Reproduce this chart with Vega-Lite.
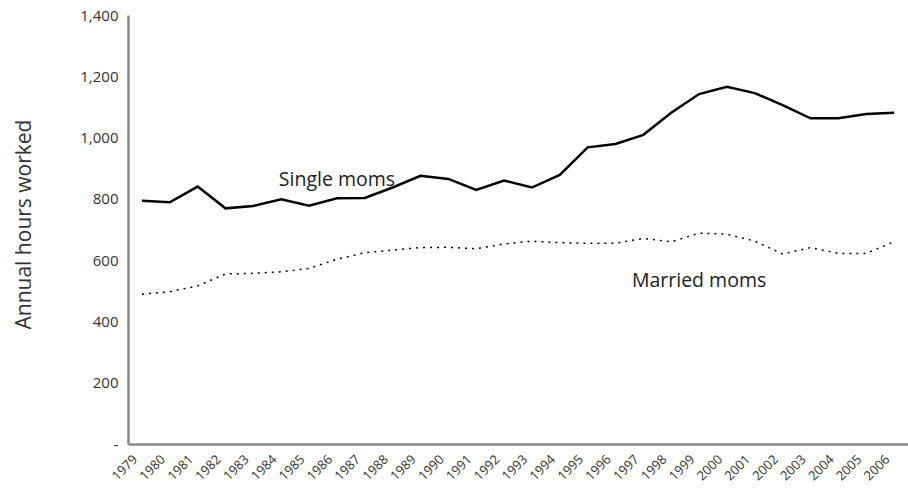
{
  "$schema": "https://vega.github.io/schema/vega-lite/v6.json",
  "width": 780,
  "height": 429,
  "autosize": "none",
  "padding": {"left": 128, "top": 15, "right": 0, "bottom": 45},
  "background": "white",
  "config": {
    "view": {"stroke": null},
    "font": "Open Sans"
  },
  "datasets": {
    "series": [
      {"year": "1979", "group": "Single moms", "hours": 794},
      {"year": "1980", "group": "Single moms", "hours": 789},
      {"year": "1981", "group": "Single moms", "hours": 840},
      {"year": "1982", "group": "Single moms", "hours": 769},
      {"year": "1983", "group": "Single moms", "hours": 777},
      {"year": "1984", "group": "Single moms", "hours": 799},
      {"year": "1985", "group": "Single moms", "hours": 778},
      {"year": "1986", "group": "Single moms", "hours": 802},
      {"year": "1987", "group": "Single moms", "hours": 803},
      {"year": "1988", "group": "Single moms", "hours": 837},
      {"year": "1989", "group": "Single moms", "hours": 875},
      {"year": "1990", "group": "Single moms", "hours": 865},
      {"year": "1991", "group": "Single moms", "hours": 829},
      {"year": "1992", "group": "Single moms", "hours": 860},
      {"year": "1993", "group": "Single moms", "hours": 837},
      {"year": "1994", "group": "Single moms", "hours": 878},
      {"year": "1995", "group": "Single moms", "hours": 968},
      {"year": "1996", "group": "Single moms", "hours": 979},
      {"year": "1997", "group": "Single moms", "hours": 1009},
      {"year": "1998", "group": "Single moms", "hours": 1081},
      {"year": "1999", "group": "Single moms", "hours": 1142},
      {"year": "2000", "group": "Single moms", "hours": 1166},
      {"year": "2001", "group": "Single moms", "hours": 1145},
      {"year": "2002", "group": "Single moms", "hours": 1106},
      {"year": "2003", "group": "Single moms", "hours": 1063},
      {"year": "2004", "group": "Single moms", "hours": 1063},
      {"year": "2005", "group": "Single moms", "hours": 1077},
      {"year": "2006", "group": "Single moms", "hours": 1081},
      {"year": "1979", "group": "Married moms", "hours": 489},
      {"year": "1980", "group": "Married moms", "hours": 497},
      {"year": "1981", "group": "Married moms", "hours": 516},
      {"year": "1982", "group": "Married moms", "hours": 555},
      {"year": "1983", "group": "Married moms", "hours": 557},
      {"year": "1984", "group": "Married moms", "hours": 562},
      {"year": "1985", "group": "Married moms", "hours": 573},
      {"year": "1986", "group": "Married moms", "hours": 603},
      {"year": "1987", "group": "Married moms", "hours": 624},
      {"year": "1988", "group": "Married moms", "hours": 633},
      {"year": "1989", "group": "Married moms", "hours": 641},
      {"year": "1990", "group": "Married moms", "hours": 642},
      {"year": "1991", "group": "Married moms", "hours": 637},
      {"year": "1992", "group": "Married moms", "hours": 653},
      {"year": "1993", "group": "Married moms", "hours": 662},
      {"year": "1994", "group": "Married moms", "hours": 657},
      {"year": "1995", "group": "Married moms", "hours": 655},
      {"year": "1996", "group": "Married moms", "hours": 655},
      {"year": "1997", "group": "Married moms", "hours": 671},
      {"year": "1998", "group": "Married moms", "hours": 660},
      {"year": "1999", "group": "Married moms", "hours": 688},
      {"year": "2000", "group": "Married moms", "hours": 685},
      {"year": "2001", "group": "Married moms", "hours": 662},
      {"year": "2002", "group": "Married moms", "hours": 620},
      {"year": "2003", "group": "Married moms", "hours": 641},
      {"year": "2004", "group": "Married moms", "hours": 622},
      {"year": "2005", "group": "Married moms", "hours": 622},
      {"year": "2006", "group": "Married moms", "hours": 660}
    ],
    "labels": [
      {"year": "1986", "hours": 862, "text": "Single moms"},
      {"year": "1999", "hours": 532, "text": "Married moms"}
    ]
  },
  "encoding": {
    "x": {
      "field": "year",
      "type": "ordinal",
      "scale": {"type": "point", "padding": 0.5},
      "axis": {
        "title": null,
        "labelAngle": -45,
        "labelAlign": "right",
        "labelBaseline": "middle",
        "labelFontSize": 13,
        "labelColor": "#333",
        "labelPadding": 13,
        "labelOffset": -7,
        "ticks": false,
        "domainColor": "#888",
        "domainWidth": 2.5
      }
    },
    "y": {
      "field": "hours",
      "type": "quantitative",
      "scale": {"domain": [0, 1400], "nice": false},
      "axis": {
        "values": [0, 200, 400, 600, 800, 1000, 1200, 1400],
        "labelExpr": "datum.value == 0 ? '-' : format(datum.value, ',')",
        "title": "Annual hours worked",
        "titleFontSize": 21,
        "titleFontWeight": "normal",
        "titleColor": "#333",
        "titleX": -104,
        "titleY": 209,
        "titleAlign": "center",
        "titleBaseline": "middle",
        "labelFontSize": 15,
        "labelColor": "#333",
        "labelPadding": 10,
        "ticks": false,
        "grid": false,
        "domainColor": "#888",
        "domainWidth": 2.5
      }
    }
  },
  "layer": [
    {
      "mark": {"type": "rule", "color": "#888", "strokeWidth": 2.5},
      "encoding": {"x": null, "y": {"datum": 1400, "type": "quantitative"}}
    },
    {
      "data": {"name": "series"},
      "transform": [{"filter": "datum.group == 'Single moms'"}],
      "mark": {"type": "line", "color": "#000", "strokeWidth": 2.5, "strokeJoin": "miter"}
    },
    {
      "data": {"name": "series"},
      "transform": [{"filter": "datum.group == 'Married moms'"}],
      "mark": {"type": "line", "color": "#000", "strokeWidth": 1.5, "strokeDash": [2, 5]}
    },
    {
      "data": {"name": "labels"},
      "mark": {"type": "text", "fontSize": 19.5, "color": "#222", "align": "center", "baseline": "middle"},
      "encoding": {"text": {"field": "text"}}
    }
  ]
}
